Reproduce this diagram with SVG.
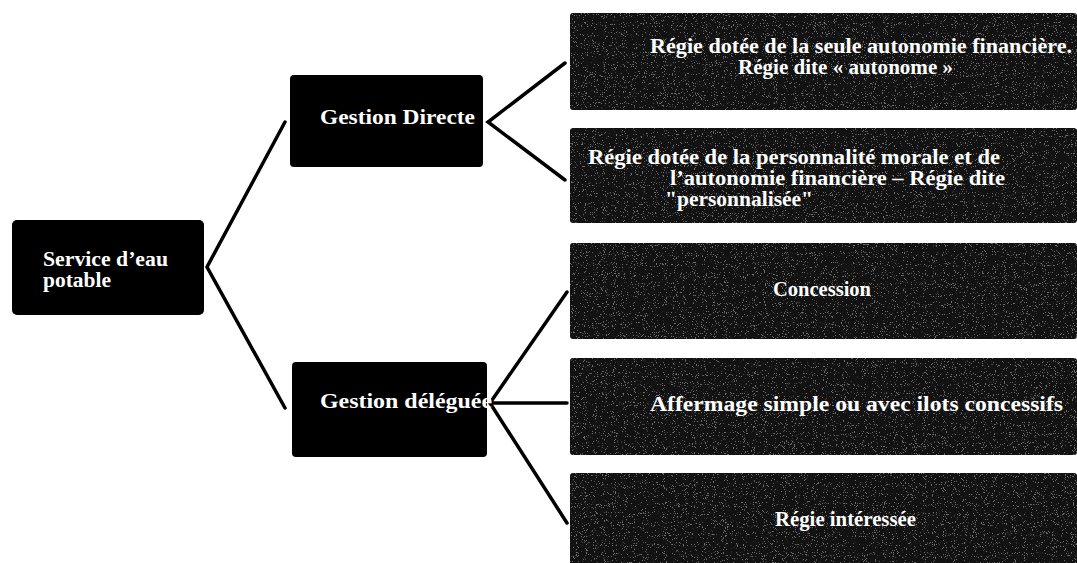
<svg xmlns="http://www.w3.org/2000/svg" width="1077" height="563" viewBox="0 0 1077 563">
<style>
.box{fill:#000}
.rbox{fill:#121212}
.t{font-family:"Liberation Serif","DejaVu Serif",serif;font-weight:bold;font-size:20px;fill:#fff}
.c{stroke:#000;stroke-width:3.5;fill:none;stroke-linecap:round;stroke-linejoin:miter}
</style>
<defs>
<filter id="speck" x="0" y="0" width="100%" height="100%">
<feTurbulence type="fractalNoise" baseFrequency="0.9" numOctaves="2" seed="7" result="n"/>
<feColorMatrix in="n" type="matrix" values="0 0 0 0 1  0 0 0 0 1  0 0 0 0 1  14 0 0 0 -8.8" result="d"/>
<feComposite in="d" in2="SourceGraphic" operator="in"/>
</filter>
</defs>
<rect width="1077" height="563" fill="#fff"/>
<g id="connectors">
<polyline class="c" points="285,122 207,267 285,408"/>
<polyline class="c" points="565,63 488,122 565,180"/>
<polyline class="c" points="567,292 490,403 567,523"/>
<line class="c" x1="490" y1="403" x2="567" y2="403"/>
</g>
<g id="service">
<rect class="box" x="12" y="220" width="192" height="95" rx="5"/>
<text class="t" x="43" y="266" textLength="125" lengthAdjust="spacingAndGlyphs">Service d’eau</text>
<text class="t" x="43" y="287" textLength="68" lengthAdjust="spacingAndGlyphs">potable</text>
</g>
<g id="directe">
<rect class="box" x="290" y="75" width="193" height="92" rx="4"/>
<text class="t" x="320" y="124" textLength="155" lengthAdjust="spacingAndGlyphs">Gestion Directe</text>
</g>
<g id="deleguee">
<rect class="box" x="292" y="362" width="195" height="95" rx="4"/>
<text class="t" x="320" y="408" textLength="172" lengthAdjust="spacingAndGlyphs">Gestion déléguée</text>
</g>
<g id="regie-autonome">
<rect class="rbox" x="570" y="13" width="507" height="97" rx="3"/>
<rect x="570" y="13" width="507" height="97" fill="#fff" opacity="0.4" filter="url(#speck)"/>
<text class="t" x="650" y="53" textLength="422" lengthAdjust="spacingAndGlyphs">Régie dotée de la seule autonomie financière.</text>
<text class="t" x="738" y="74" textLength="215" lengthAdjust="spacingAndGlyphs">Régie dite « autonome »</text>
</g>
<g id="regie-personnalisee">
<rect class="rbox" x="570" y="128" width="507" height="95" rx="3"/>
<rect x="570" y="128" width="507" height="95" fill="#fff" opacity="0.4" filter="url(#speck)"/>
<text class="t" x="588" y="164" textLength="412" lengthAdjust="spacingAndGlyphs">Régie dotée de la personnalité morale et de</text>
<text class="t" x="670" y="185" textLength="335" lengthAdjust="spacingAndGlyphs">l’autonomie financière – Régie dite</text>
<text class="t" x="665" y="206" textLength="148" lengthAdjust="spacingAndGlyphs">"personnalisée"</text>
</g>
<g id="concession">
<rect class="rbox" x="570" y="243" width="507" height="96" rx="3"/>
<rect x="570" y="243" width="507" height="96" fill="#fff" opacity="0.4" filter="url(#speck)"/>
<text class="t" x="773" y="296" textLength="98" lengthAdjust="spacingAndGlyphs">Concession</text>
</g>
<g id="affermage">
<rect class="rbox" x="570" y="358" width="507" height="97" rx="3"/>
<rect x="570" y="358" width="507" height="97" fill="#fff" opacity="0.4" filter="url(#speck)"/>
<text class="t" x="650" y="411" textLength="413" lengthAdjust="spacingAndGlyphs">Affermage simple ou avec ilots concessifs</text>
</g>
<g id="regie-interessee">
<rect class="rbox" x="570" y="473" width="507" height="92" rx="3"/>
<rect x="570" y="473" width="507" height="92" fill="#fff" opacity="0.4" filter="url(#speck)"/>
<text class="t" x="775" y="526" textLength="141" lengthAdjust="spacingAndGlyphs">Régie intéressée</text>
</g>
</svg>
